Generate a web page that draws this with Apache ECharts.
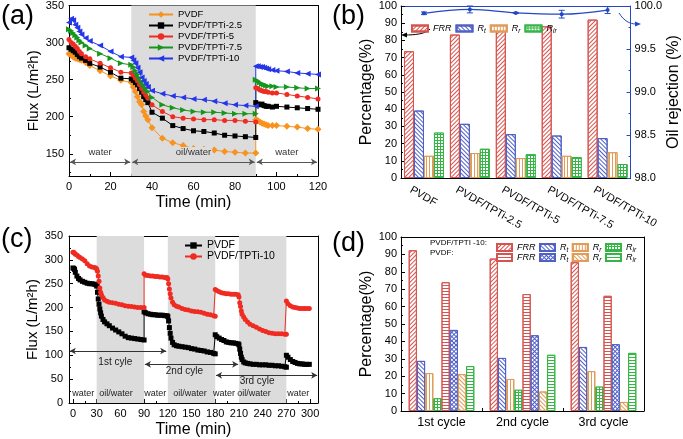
<!DOCTYPE html>
<html>
<head>
<meta charset="utf-8">
<script src="https://cdn.jsdelivr.net/npm/echarts@6.0.0/dist/echarts.min.js"></script>
<style>
html,body{margin:0;padding:0;background:#ffffff;}
#chart{width:683px;height:439px;}
</style>
</head>
<body>
<div id="chart"></div>
<script>
// ================= Panel (a) data =================
const timeA = [0,1,2,3,4,5,6,8,10,15,20,25,30, 31,32,33,34,35,36,37,38,40,45,50,55,60,65,70,75,80,85,90, 90,91,92,93,94,95,96,98,100,105,110,115,120];
const fluxA_PVDF    = [285,283,281,279,278,277,276,273,269,262,255,249,246, 240,234,227,220,216,207,201,196,185,171,165,161,157,156,155,153,152,151,151, 196,195,193,191,190,189,188,188,188,187,186,184,183];
const fluxA_TPTi25  = [293,291,289,287,284,281,279,276,272,267,260,252,251, 249,246,243,238,233,227,223,219,206,198,188,184,181,180,178,175,174,173,172, 219,217,216,217,215,214,214,213,214,213,212,211,210];
const fluxA_TPTi5   = [304,300,298,295,292,288,285,281,278,272,266,260,259, 256,252,248,243,238,233,229,225,216,207,200,198,197,196,196,195,195,194,193, 239,238,236,235,234,234,233,232,232,230,228,226,224];
const fluxA_TPTi75  = [318,316,313,310,307,303,300,296,292,285,279,272,270, 267,262,257,252,247,242,238,234,226,216,212,209,207,206,206,205,204,204,204, 250,248,246,244,243,242,241,241,240,240,239,238,238];
const fluxA_TPTi10  = [327,332,330,324,320,315,311,306,302,296,288,281,280, 276,272,266,260,253,248,244,240,235,231,228,226,224,223,221,218,216,215,214, 268,268,267,267,266,265,264,263,262,261,259,258,257];
const namesA = ['PVDF','PVDF/TPTi-2.5','PVDF/TPTi-5','PVDF/TPTi-7.5','PVDF/TPTi-10'];
const yLabelsA = [150,200,250,300,350];
const yMinorA = [125,175,225,275,325];
const phasesA = [[0.5,29.5,'water'],[30.5,89.5,'oil/water'],[90.5,119.5,'water']];
const phaseLevelA = 139;

// ================= Panel (b) data =================
const categoriesB = ['PVDF','PVDF/TPTi-2.5','PVDF/TPTi-5','PVDF/TPTi-7.5','PVDF/TPTi-10'];
const frrB = [73.7, 83.4, 86.3, 88.2, 92.1];
const rtB  = [39.2, 31.5, 25.5, 24.7, 23.2];
const rrB  = [12.9, 14.5, 11.6, 12.9, 15.0];
const rirB = [26.4, 17.0, 13.9, 12.2, 8.1];
const rejectionB    = [99.915, 99.96, 99.92, 99.905, 99.953];
const rejectionErrB = [0.015, 0.04, 0.006, 0.045, 0.04];

// ================= Panel (c) data =================
const timeC = [0,1,2,3,5,7,9,12,15,18,21,24,27,29,
  30,31,32,33,34,35,36,38,40,43,46,50,54,58,62,66,70,74,78,82,86,90,
  90,92,95,98,101,104,107,110,113,116,119,
  120,121,122,123,124,126,128,131,134,138,142,146,150,154,158,162,166,170,174,178,180,
  180,182,185,188,191,194,197,200,203,206,209,
  210,211,212,213,214,216,218,221,224,228,232,236,240,244,248,252,256,260,264,268,270,
  270,272,275,278,281,284,287,290,293,296,299];
const fluxC_PVDF = [283,282,280,274,266,261,258,255,253,251,250,250,249,248,
  245,232,218,207,197,189,182,175,170,166,162,157,153,149,145,140,137,136,135,134,133,132,
  191,189,187,186,185,185,184,184,184,183,183,
  181,172,158,146,136,127,122,120,119,118,117,116,114,113,111,110,109,107,106,104,103,
  143,139,136,133,131,128,127,126,126,125,124,
  122,113,104,96,91,86,84,83,82,81,81,80,80,80,79,79,78,78,77,76,75,
  100,96,91,87,85,83,82,82,81,81,81];
const fluxC_TPTi10 = [316,316,314,312,310,307,305,302,298,292,287,285,284,283,
  281,276,266,255,241,232,227,221,216,213,211,210,209,207,206,204,203,202,201,200,200,200,
  271,268,267,266,266,265,265,264,264,263,263,
  260,250,239,229,220,211,206,203,201,198,196,195,193,192,191,190,188,186,185,183,182,
  238,236,233,231,230,229,229,228,228,228,227,
  222,210,202,193,186,180,175,170,165,162,159,155,152,150,147,146,145,145,145,144,144,
  214,208,204,201,200,199,198,198,198,198,198];
const xLabelsC = [0,30,60,90,120,150,180,210,240,270,300];
const xMinorC  = [15,45,75,105,135,165,195,225,255,285];
const shadedC  = [[30,90],[120,180],[210,270]];
const phaseLabelsC = [[13,20,'water'],[54.5,20,'oil/water'],[104,20,'water'],[148,20,'oil/water'],[191,20,'water'],[229,20,'oil/water'],[285,20,'water']];
const cycleLabelsC = [[53.6,85,'1st cyle'],[141,66,'2nd cyle'],[233,45,'3rd cyle']];
const cycleArrowsC = [[-4,118,109],[91,209,81],[181,309,58]];

// ================= Panel (d) data =================
const categoriesD = ['1st cycle','2nd cycle','3rd cycle'];
const frrD_T = [92.4, 87.6, 85.5];
const rtD_T  = [28.8, 30.5, 36.8];
const rrD_T  = [21.8, 18.4, 22.9];
const rirD_T = [7.3, 12.2, 14.0];
const frrD_P = [74.0, 67.2, 66.2];
const rtD_P  = [46.6, 43.5, 38.4];
const rrD_P  = [21.2, 11.2, 5.2];
const rirD_P = [25.8, 32.3, 33.4];

// ================= styles =================
const F = 'Liberation Sans, Arial, Helvetica, sans-serif';
const K = '#000000';
const C_OR = '#f7931e', C_BK = '#000000', C_RD = '#ef2b22', C_GN = '#16961c', C_BL = '#2536e8';
const HR = '#d6544f', HB = '#4f60c6', HO = '#e09c58', HG = '#35b545';
const BLUE_R = '#2446c8';

function valueAxis(o) {
  const a = {
    type: 'value',
    axisLine: {show: true, onZero: false, lineStyle: {color: K, width: 1}},
    axisTick: {show: true, inside: true, length: 4, lineStyle: {color: K}},
    minorTick: {show: false},
    axisLabel: {color: K, fontSize: 11, fontFamily: F, margin: 5},
    splitLine: {show: false},
    nameTextStyle: {color: K, fontSize: 16, fontFamily: F},
    nameLocation: 'middle'
  };
  for (const k in o) {
    if (a[k] && typeof a[k] === 'object' && o[k] && typeof o[k] === 'object' && !Array.isArray(o[k])) a[k] = Object.assign({}, a[k], o[k]);
    else a[k] = o[k];
  }
  return a;
}
function frameAxis(gridIndex, position, color) {
  return {gridIndex, type: 'value', position, min: 0, max: 1,
    axisLine: {show: true, onZero: false, lineStyle: {color: color || K, width: 1}},
    axisTick: {show: false}, axisLabel: {show: false}, splitLine: {show: false}};
}
function minorAxis(gridIndex, position, min, max, values) {
  return {gridIndex, type: 'value', position, min, max,
    axisLine: {show: false}, axisLabel: {show: false}, splitLine: {show: false},
    axisTick: {show: true, inside: true, length: 2, customValues: values, lineStyle: {color: K}}};
}

const stripes = (color, rotation, gap) => ({symbol: 'rect', symbolSize: 1, color, dashArrayX: [1, 0], dashArrayY: [1, gap], rotation});
const vlines = (color, gap) => ({symbol: 'rect', symbolSize: 1, color, dashArrayX: [1, gap], dashArrayY: [1, 0], rotation: 0});
const gridDecal = (rotation) => ({symbol: 'rect', symbolSize: 1, color: '#ffffff', dashArrayX: [2, 1], dashArrayY: [2, 1], rotation});
const barStyle = (border, fill, decal) => ({color: fill, borderColor: border, borderWidth: 1, decal});

const richSub = {
  i: {fontStyle: 'italic', fontSize: 9, fontFamily: F, color: K},
  s: {fontStyle: 'italic', fontSize: 6.5, fontFamily: F, color: K, padding: [5, 0, 0, 0]}
};
const subLabel = n => ({FRR: '{i|FRR}', Rt: '{i|R}{s|t}', Rr: '{i|R}{s|r}', Rir: '{i|R}{s|ir}'})[n];

// ================= series =================
const defsA = [
  {data: fluxA_PVDF,   color: C_OR, symbol: 'diamond',  size: 7, rot: 0},
  {data: fluxA_TPTi25, color: C_BK, symbol: 'rect',     size: 5, rot: 0},
  {data: fluxA_TPTi5,  color: C_RD, symbol: 'circle',   size: 5, rot: 0},
  {data: fluxA_TPTi75, color: C_GN, symbol: 'triangle', size: 6, rot: -90},
  {data: fluxA_TPTi10, color: C_BL, symbol: 'triangle', size: 6, rot: 90}
];
const seriesA = defsA.map((d, k) => ({
  type: 'line', name: namesA[k], xAxisIndex: 0, yAxisIndex: 0, z: 3,
  data: timeA.map((t, i) => [t, d.data[i]]),
  symbol: d.symbol, symbolSize: d.size, symbolRotate: d.rot,
  itemStyle: {color: d.color}, lineStyle: {color: d.color, width: 1}
}));
const annotA = {
  type: 'line', xAxisIndex: 0, yAxisIndex: 0, data: [], z: 1, silent: true,
  markArea: {silent: true, itemStyle: {color: '#dcdcdc'}, data: [[{xAxis: 30}, {xAxis: 90}]]},
  markLine: {
    silent: true, symbol: ['arrow', 'arrow'], symbolSize: [5, 6],
    lineStyle: {color: '#555', width: 1, type: 'solid'},
    label: {show: true, position: 'middle', fontSize: 9.5, fontFamily: F, color: '#333', padding: [0, 1]},
    data: phasesA.map(p => [
      {coord: [p[0], phaseLevelA], label: {formatter: p[2], backgroundColor: p[2] === 'water' ? '#ffffff' : '#dcdcdc'}},
      {coord: [p[1], phaseLevelA]}
    ])
  }
};

const defsB = [
  {name: 'FRR', data: frrB, style: barStyle(HR, '#ffffff', stripes(HR, -Math.PI / 4, 2))},
  {name: 'Rt',  data: rtB,  style: barStyle(HB, '#ffffff', stripes(HB, Math.PI / 4, 2))},
  {name: 'Rr',  data: rrB,  style: barStyle(HO, '#ffffff', vlines(HO, 2))},
  {name: 'Rir', data: rirB, style: barStyle(HG, HG, gridDecal(0))}
];
const seriesB = defsB.map(d => ({
  type: 'bar', name: d.name, xAxisIndex: 2, yAxisIndex: 3, data: d.data,
  barGap: '0%', barCategoryGap: '13%', itemStyle: d.style
}));
const rejLine = {
  type: 'line', name: 'rejection', xAxisIndex: 2, yAxisIndex: 4, data: rejectionB, smooth: 0.4, z: 5,
  symbol: 'circle', symbolSize: 4, itemStyle: {color: BLUE_R}, lineStyle: {color: BLUE_R, width: 1.2}
};
const rejErr = {
  type: 'custom', name: 'rejErr', xAxisIndex: 2, yAxisIndex: 4, z: 6, silent: true,
  data: rejectionB.map((v, i) => [i, v - rejectionErrB[i], v + rejectionErrB[i]]),
  renderItem: (params, api) => {
    const x = api.value(0);
    const p1 = api.coord([x, api.value(1)]);
    const p2 = api.coord([x, api.value(2)]);
    const st = {stroke: BLUE_R, lineWidth: 1};
    return {type: 'group', children: [
      {type: 'line', shape: {x1: p1[0], y1: p1[1], x2: p2[0], y2: p2[1]}, style: st},
      {type: 'line', shape: {x1: p1[0] - 3, y1: p1[1], x2: p1[0] + 3, y2: p1[1]}, style: st},
      {type: 'line', shape: {x1: p2[0] - 3, y1: p2[1], x2: p2[0] + 3, y2: p2[1]}, style: st}
    ]};
  }
};

const seriesC = [
  {name: 'c:PVDF', data: fluxC_PVDF, color: C_BK, symbol: 'rect', size: 5},
  {name: 'c:PVDF/TPTi-10', data: fluxC_TPTi10, color: C_RD, symbol: 'circle', size: 5}
].map(d => ({
  type: 'line', name: d.name, xAxisIndex: 5, yAxisIndex: 5, z: 3,
  data: timeC.map((t, i) => [t, d.data[i]]),
  symbol: d.symbol, symbolSize: d.size, itemStyle: {color: d.color}, lineStyle: {color: d.color, width: 1}
}));
const annotC = {
  type: 'line', xAxisIndex: 5, yAxisIndex: 5, data: [], z: 1, silent: true,
  markArea: {silent: true, itemStyle: {color: '#dcdcdc'}, data: shadedC.map(s => [{xAxis: s[0]}, {xAxis: s[1]}])},
  markLine: {
    silent: true, symbol: ['arrow', 'arrow'], symbolSize: [5, 6],
    lineStyle: {color: '#333', width: 1, type: 'solid'}, label: {show: false},
    data: cycleArrowsC.map(a => [{coord: [a[0], a[2]]}, {coord: [a[1], a[2]]}])
  },
  markPoint: {
    silent: true, symbol: 'rect', symbolSize: 1, itemStyle: {color: 'rgba(0,0,0,0)'},
    data: cycleLabelsC.map(l => ({coord: [l[0], l[1]], value: l[2],
        label: {show: true, position: 'inside', formatter: l[2], fontSize: 10, fontFamily: F, color: '#222'}}))
      .concat(phaseLabelsC.map(l => ({coord: [l[0], l[1]], value: l[2],
        label: {show: true, position: 'inside', formatter: l[2], fontSize: 9, fontFamily: F, color: '#222'}})))
  }
};

const defsD = [
  {name: 'T-FRR', data: frrD_T, style: barStyle(HR, '#ffffff', stripes(HR, -Math.PI / 4, 2))},
  {name: 'T-Rt',  data: rtD_T,  style: barStyle(HB, '#ffffff', stripes(HB, Math.PI / 4, 2))},
  {name: 'T-Rr',  data: rrD_T,  style: barStyle(HO, '#ffffff', vlines(HO, 2))},
  {name: 'T-Rir', data: rirD_T, style: barStyle(HG, HG, gridDecal(0))},
  {name: 'P-FRR', data: frrD_P, style: barStyle(HR, '#ffffff', stripes(HR, 0, 2))},
  {name: 'P-Rt',  data: rtD_P,  style: barStyle(HB, HB, gridDecal(Math.PI / 4))},
  {name: 'P-Rr',  data: rrD_P,  style: barStyle(HO, '#ffffff', stripes(HO, Math.PI / 4, 1.5))},
  {name: 'P-Rir', data: rirD_P, style: barStyle(HG, '#ffffff', stripes(HG, 0, 2))}
];
const seriesD = defsD.map(d => ({
  type: 'bar', name: d.name, xAxisIndex: 8, yAxisIndex: 7, data: d.data,
  barGap: '0%', barCategoryGap: '19%', itemStyle: d.style
}));

// ================= option =================
const option = {
  animation: false,
  backgroundColor: '#ffffff',
  textStyle: {fontFamily: F},
  grid: [
    {left: 69, top: 4, width: 249, height: 172},
    {left: 401, top: 6, width: 243, height: 172},
    {left: 69, top: 236, width: 249, height: 167},
    {left: 401, top: 237, width: 243, height: 174}
  ],
  xAxis: [
    valueAxis({gridIndex: 0, position: 'bottom', min: 0, max: 120, interval: 20,
      minorTick: {show: true, splitNumber: 2, length: 2, lineStyle: {color: K}},
      name: 'Time (min)', nameGap: 19}),
    frameAxis(0, 'top'),
    {gridIndex: 1, type: 'category', position: 'bottom', data: categoriesB,
      axisLine: {show: true, lineStyle: {color: K}}, axisTick: {show: false}, axisLabel: {show: false}},
    {gridIndex: 1, type: 'value', position: 'bottom', min: 0, max: 5,
      axisLine: {show: false}, axisTick: {show: false}, splitLine: {show: false},
      axisLabel: {show: true, customValues: categoriesB.map((c, i) => i + 0.21), rotate: -30, margin: 11,
        fontSize: 11, fontFamily: F, color: K,
        formatter: v => categoriesB[Math.round(v - 0.21)]}},
    frameAxis(1, 'top', BLUE_R),
    valueAxis({gridIndex: 2, position: 'bottom', min: -5, max: 310,
      axisLabel: {customValues: xLabelsC, margin: 5},
      axisTick: {customValues: xLabelsC},
      name: 'Time (min)', nameGap: 19}),
    minorAxis(2, 'bottom', -5, 310, xMinorC),
    frameAxis(2, 'top'),
    {gridIndex: 3, type: 'category', position: 'bottom', data: categoriesD,
      axisLine: {show: true, lineStyle: {color: K}},
      axisTick: {show: true, inside: true, length: 3, lineStyle: {color: K}},
      axisLabel: {color: K, fontSize: 12.5, fontFamily: F, margin: 5}},
    frameAxis(3, 'top')
  ],
  yAxis: [
    valueAxis({gridIndex: 0, position: 'left', min: 120, max: 350,
      axisLabel: {customValues: yLabelsA, margin: 5}, axisTick: {customValues: yLabelsA},
      name: 'Flux (L/m²h)', nameGap: 26, nameRotate: 90, nameTextStyle: {fontSize: 15}}),
    minorAxis(0, 'left', 120, 350, yMinorA),
    frameAxis(0, 'right'),
    valueAxis({gridIndex: 1, position: 'left', min: 0, max: 100, interval: 10,
      minorTick: {show: true, splitNumber: 2, length: 2, lineStyle: {color: K}},
      axisLabel: {margin: 4},
      name: 'Percentage(%)', nameGap: 21, nameRotate: 90}),
    valueAxis({gridIndex: 1, position: 'right', min: 98, max: 100, interval: 0.5,
      axisLine: {lineStyle: {color: BLUE_R, width: 1}},
      axisTick: {lineStyle: {color: BLUE_R}},
      minorTick: {show: true, splitNumber: 2, length: 2, lineStyle: {color: BLUE_R}},
      axisLabel: {formatter: v => v.toFixed(1), margin: 4},
      name: 'Oil rejection (%)', nameGap: 26, nameRotate: 90}),
    valueAxis({gridIndex: 2, position: 'left', min: 0, max: 350, interval: 50,
      minorTick: {show: true, splitNumber: 2, length: 2, lineStyle: {color: K}},
      axisLabel: {margin: 6},
      name: 'Flux (L/m²h)', nameGap: 27, nameRotate: 90, nameTextStyle: {fontSize: 15}}),
    frameAxis(2, 'right'),
    valueAxis({gridIndex: 3, position: 'left', min: 0, max: 100, interval: 10,
      minorTick: {show: true, splitNumber: 2, length: 2, lineStyle: {color: K}},
      axisLabel: {margin: 4},
      name: 'Percentage(%)', nameGap: 25, nameRotate: 90}),
    frameAxis(3, 'right')
  ],
  legend: [
    {data: namesA, orient: 'vertical', left: 143, top: 4, itemWidth: 24, itemHeight: 8, itemGap: 0,
      selectedMode: false, textStyle: {fontSize: 9.5, lineHeight: 11, fontFamily: F, color: K}},
    {data: ['FRR', 'Rt', 'Rr', 'Rir'], left: 406, top: 19, width: 230, icon: 'rect', itemWidth: 16, itemHeight: 6, itemGap: 4,
      selectedMode: false, formatter: n => subLabel(n),
      textStyle: {fontSize: 9, fontFamily: F, color: K, rich: richSub}},
    {data: ['c:PVDF', 'c:PVDF/TPTi-10'], orient: 'vertical', left: 179, top: 235, itemWidth: 17, itemHeight: 8, itemGap: 0,
      selectedMode: false, formatter: n => n.slice(2),
      textStyle: {fontSize: 10.5, lineHeight: 10, fontFamily: F, color: K}},
    {data: ['T-FRR', 'T-Rt', 'T-Rr', 'T-Rir'], left: 491, top: 238, width: 150, icon: 'rect', itemWidth: 15, itemHeight: 7, itemGap: 3.5,
      selectedMode: false, formatter: n => subLabel(n.slice(2)),
      textStyle: {fontSize: 8, fontFamily: F, color: K, rich: richSub}},
    {data: ['P-FRR', 'P-Rt', 'P-Rr', 'P-Rir'], left: 491, top: 248, width: 150, icon: 'rect', itemWidth: 15, itemHeight: 7, itemGap: 3.5,
      selectedMode: false, formatter: n => subLabel(n.slice(2)),
      textStyle: {fontSize: 8, fontFamily: F, color: K, rich: richSub}}
  ],
  graphic: [
    {type: 'text', x: 1, y: 3, style: {text: '(a)', fontSize: 27, fontFamily: F, fill: K, verticalAlign: 'top'}},
    {type: 'text', x: 332, y: 3, style: {text: '(b)', fontSize: 27, fontFamily: F, fill: K, verticalAlign: 'top'}},
    {type: 'text', x: 1, y: 226, style: {text: '(c)', fontSize: 27, fontFamily: F, fill: K, verticalAlign: 'top'}},
    {type: 'text', x: 332, y: 230, style: {text: '(d)', fontSize: 27, fontFamily: F, fill: K, verticalAlign: 'top'}},
    {type: 'bezierCurve', shape: {x1: 430, y1: 29, cpx1: 426, cpy1: 34, cpx2: 414, cpy2: 35, x2: 405, y2: 35},
      style: {stroke: K, lineWidth: 1, fill: null}},
    {type: 'polygon', shape: {points: [[401, 35], [407, 32.5], [407, 37.5]]}, style: {fill: K}},
    {type: 'bezierCurve', shape: {x1: 619, y1: 13, cpx1: 624, cpy1: 21, cpx2: 630, cpy2: 24, x2: 636, y2: 24},
      style: {stroke: BLUE_R, lineWidth: 1, fill: null}},
    {type: 'polygon', shape: {points: [[641, 24], [635, 21.5], [635, 26.5]]}, style: {fill: BLUE_R}},
    {type: 'text', x: 430, y: 243, style: {text: 'PVDF/TPTI -10:', fontSize: 8, fontFamily: F, fill: K, verticalAlign: 'middle'}},
    {type: 'text', x: 430, y: 253, style: {text: 'PVDF:', fontSize: 8, fontFamily: F, fill: K, verticalAlign: 'middle'}}
  ],
  series: [annotA].concat(seriesA, seriesB, [rejLine, rejErr], [annotC], seriesC, seriesD)
};

const chart = echarts.init(document.getElementById('chart'), null, {renderer: 'canvas', width: 683, height: 439});
chart.setOption(option);
</script>
</body>
</html>
